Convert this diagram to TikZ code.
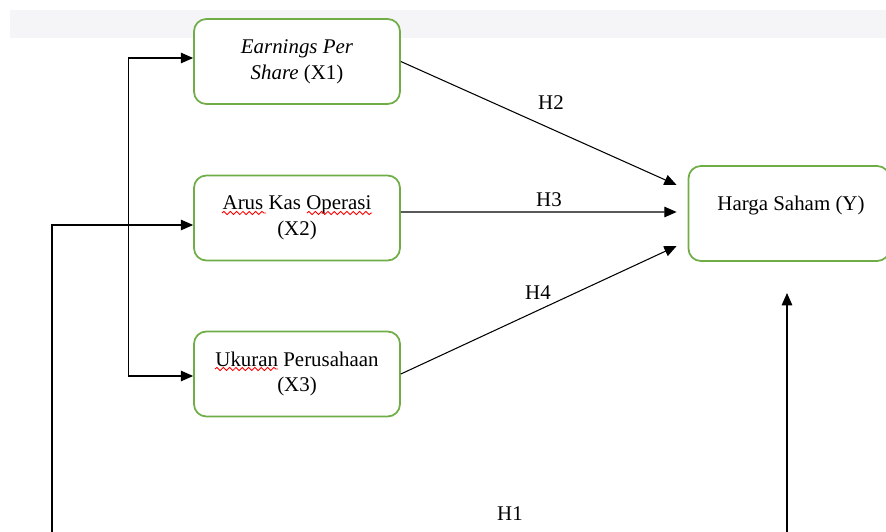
\documentclass[tikz,border=0pt]{standalone}
\usepackage{fontspec}
\setmainfont{Liberation Serif}
\usetikzlibrary{arrows.meta,decorations.pathmorphing}

\definecolor{boxgreen}{RGB}{112,173,71}
\definecolor{bandgray}{RGB}{245,245,248}

\tikzset{
  var/.style={draw=boxgreen, line width=1pt, rounded corners=7pt, fill=white,
    minimum width=4.12cm, minimum height=1.7cm, align=center,
    font=\fontsize{11.9}{14.7}\selectfont},
  hyp/.style={font=\fontsize{11.9}{14}\selectfont},
  arr/.style={-{Triangle[length=7pt,width=6pt]}, line width=0.6pt},
  twoarr/.style={{Triangle[length=7pt,width=6pt]}-{Triangle[length=7pt,width=6pt]}, line width=0.6pt},
  squiggle/.style={red, line width=0.5pt, decorate,
    decoration={snake, amplitude=0.9pt, segment length=3.6pt}}
}

\begin{document}
\begin{tikzpicture}[x=0.02cm,y=-0.02cm]
\useasboundingbox (0,0) rectangle (886,531);
\fill[bandgray] (10,10) rectangle (886,38);

% variables
\node[var] (x1) at (297,61.5) {\textit{Earnings Per}\\\textit{Share} (X1)};
\node[var] (x2) at (297,218)  {Arus Kas Operasi\\(X2)};
\node[var] (x3) at (297,374)  {Ukuran Perusahaan\\(X3)};
\node[var, minimum width=4.02cm, minimum height=1.9cm] (y) at (789,213.5) {};
\node[hyp] (ytext) at (791,205) {Harga Saham (Y)};

% spell check marks
\draw[squiggle] (222,213) -- (266,213);
\draw[squiggle] (307,213) -- (372,213);
\draw[squiggle] (215,369) -- (278,369);

% arrow ends
\coordinate (e2) at ([shift={(-11,-28.5)}]y.west);
\coordinate (e3) at ([shift={(-11,-1.5)}]y.west);
\coordinate (e4) at ([shift={(-11,32.5)}]y.west);
\coordinate (bl) at (52,540);
\coordinate (br) at (787,540);
\coordinate (yin) at (787,293);

\draw[arr] (x1.east) -- (e2);
\draw[arr] ([yshift=0.12cm]x2.east) -- (e3);
\draw[arr] (x3.east) -- (e4);
\draw[twoarr] ([yshift=0.07cm]x1.west) -- ++(-65,0) |- ([yshift=-0.04cm]x3.west);
\draw[arr] (bl) |- ([yshift=-0.14cm]x2.west);
\draw[arr] (br) -- (yin);

% hypotheses
\node[hyp] (h2) at (551,103) {H2};
\node[hyp] (h3) at (549,200) {H3};
\node[hyp] (h4) at (538,293) {H4};
\node[hyp] (h1) at (510,514) {H1};
\end{tikzpicture}
\end{document}
